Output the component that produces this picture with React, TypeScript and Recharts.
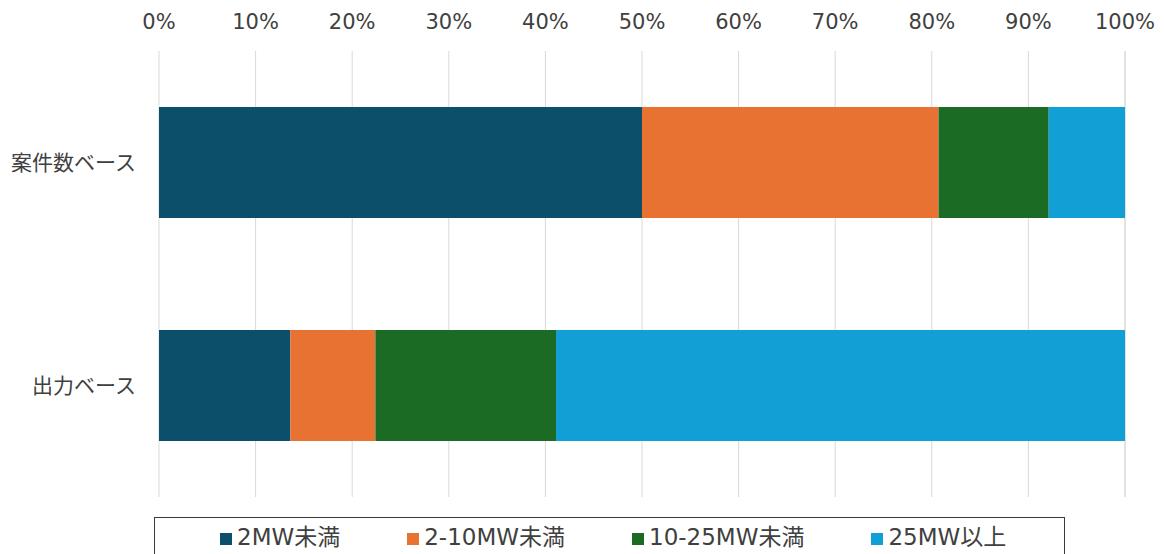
import { Bar, BarChart, CartesianGrid, Legend, XAxis, YAxis } from 'recharts';

// share of projects by plant size, counted two ways (%)
const categories = ['案件数ベース', '出力ベース'];
const under2MW = [50.0, 13.6];
const from2to10MW = [30.7, 8.8];
const from10to25MW = [11.4, 18.7];
const over25MW = [7.9, 58.9];
const percentTicks = [0, 10, 20, 30, 40, 50, 60, 70, 80, 90, 100];

const seriesNames = ['2MW未満', '2-10MW未満', '10-25MW未満', '25MW以上'];
const seriesColors = ['#0b4f6b', '#e87232', '#1b6b25', '#119fd6'];
const seriesValues = [under2MW, from2to10MW, from10to25MW, over25MW];

const rows = categories.map((name, i) => {
  const row: Record<string, string | number> = { name };
  seriesNames.forEach((s, k) => {
    row[s] = seriesValues[k][i];
  });
  return row;
});

const TEXT = '#404040';
const FONT = '"DejaVu Sans", Verdana, "Noto Sans CJK JP", sans-serif';

type LegendItem = { value?: string; color?: string };

// boxed legend, kept in series order (recharts sorts the payload by name)
function BoxLegend({ payload }: { payload?: ReadonlyArray<LegendItem> }) {
  const items = [...(payload ?? [])].sort(
    (a, b) => seriesNames.indexOf(a.value ?? '') - seriesNames.indexOf(b.value ?? ''),
  );
  return (
    <div
      style={{
        boxSizing: 'border-box',
        width: '100%',
        height: '100%',
        border: '1.5px solid #3a3a3a',
        display: 'flex',
        alignItems: 'flex-start',
        gap: 67,
        paddingLeft: 65,
        paddingTop: 5,
        overflow: 'visible',
        fontFamily: FONT,
        fontSize: 23,
        color: TEXT,
        whiteSpace: 'nowrap',
      }}
    >
      {items.map((p) => (
        <div key={p.value} style={{ display: 'flex', alignItems: 'center', flexShrink: 0 }}>
          <span style={{ width: 12, height: 12, background: p.color, marginRight: 5, marginTop: 3, flexShrink: 0 }} />
          <span style={{ lineHeight: '28px' }}>{p.value}</span>
        </div>
      ))}
    </div>
  );
}

export default function App() {
  return (
    <div style={{ position: 'absolute', left: 0, top: 0, width: 1164, height: 554, background: '#fff' }}>
      <BarChart
        width={1164}
        height={554}
        data={rows}
        layout="vertical"
        margin={{ top: 21, right: 39, bottom: 57, left: 0 }}
      >
        <CartesianGrid horizontal={false} stroke="#d9d9d9" />
        <XAxis
          type="number"
          orientation="top"
          height={30}
          domain={[0, 100]}
          ticks={percentTicks}
          tickFormatter={(v: number) => `${v}%`}
          axisLine={false}
          tickLine={false}
          tickSize={0}
          tickMargin={22}
          interval={0}
          tick={{ fill: TEXT, fontSize: 21, fontFamily: FONT }}
        />
        <YAxis
          type="category"
          dataKey="name"
          width={159}
          axisLine={false}
          tickLine={false}
          tickSize={0}
          tickMargin={23}
          tick={{ fill: TEXT, fontSize: 21, fontFamily: FONT }}
        />
        {seriesNames.map((s, k) => (
          <Bar key={s} dataKey={s} stackId="a" fill={seriesColors[k]} barSize={111} isAnimationActive={false} />
        ))}
        <Legend
          layout="horizontal"
          verticalAlign="middle"
          align="center"
          wrapperStyle={{ left: 154, top: 517, width: 911, height: 60 }}
          content={(props) => <BoxLegend payload={props.payload as any} />}
        />
      </BarChart>
    </div>
  );
}
